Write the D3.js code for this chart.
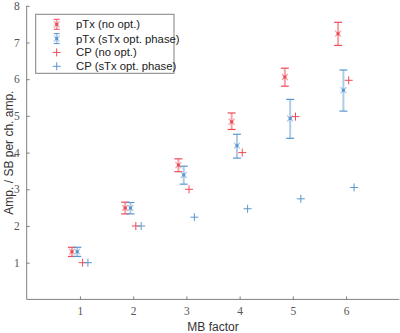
<!DOCTYPE html>
<html>
<head>
<script src="https://d3js.org/d3.v7.min.js"></script>
<style>
  body { margin: 0; background: #fff; }
  .axis text { font-family: "Liberation Serif", "DejaVu Serif", serif; font-size: 11.5px; fill: #555; }
  .axis line, .axis path { stroke: #808080; }
</style>
</head>
<body>
<svg id="chart" width="400" height="333"></svg>
<script>
// data
const mbFactors = [1, 2, 3, 4, 5, 6];
const pTxNoOpt = [1.30, 2.49, 3.66, 4.84, 6.06, 7.24];
const pTxNoOptLo = [1.17, 2.33, 3.48, 4.63, 5.81, 6.92];
const pTxNoOptHi = [1.42, 2.65, 3.83, 5.08, 6.30, 7.55];
const pTxSTx = [1.30, 2.49, 3.39, 4.19, 4.93, 5.70];
const pTxSTxLo = [1.17, 2.33, 3.14, 3.85, 4.39, 5.13];
const pTxSTxHi = [1.42, 2.64, 3.63, 4.50, 5.45, 6.25];
const cpNoOpt = [1.0, 2.0, 3.0, 4.0, 4.98, 5.97];
const cpSTx = [1.0, 2.0, 2.24, 2.47, 2.74, 3.05];
const legendLabels = ["pTx (no opt.)", "pTx (sTx opt. phase)", "CP (no opt.)", "CP (sTx opt. phase)"];
const xTicks = [1, 2, 3, 4, 5, 6];
const yTicks = [1, 2, 3, 4, 5, 6, 7, 8];

const red = "#ee4a55", redLight = "#f6a3a8";
const blue = "#5a97cf", blueLight = "#aecbe7";

const svg = d3.select("#chart");
const x = d3.scaleLinear().domain([0, 7]).range([26.7, 399.3]);
const y = d3.scaleLinear().domain([0, 8]).range([299.4, 5.8]);

// axes (ticks pointing inward)
svg.append("g").attr("class", "axis")
  .attr("transform", "translate(0,299.4)")
  .call(d3.axisBottom(x).tickValues(xTicks).tickSize(-3).tickPadding(7).tickFormat(d3.format("d")))
  .call(g => g.select(".domain").attr("d", "M26.7,0H399.3"));

svg.append("g").attr("class", "axis")
  .attr("transform", "translate(26.7,0)")
  .call(d3.axisLeft(y).tickValues(yTicks).tickSize(-3).tickPadding(7).tickFormat(d3.format("d")))
  .call(g => g.select(".domain").attr("d", "M0,299.4V5.8"));

svg.selectAll(".axis text").attr("font-family", null);

svg.append("text")
  .attr("x", x(3.5)).attr("y", 331)
  .attr("text-anchor", "middle")
  .style("font-family", "Liberation Sans, Arial, sans-serif")
  .style("font-size", "12px").style("fill", "#333")
  .text("MB factor");

svg.append("text")
  .attr("transform", `translate(13,${y(4)}) rotate(-90)`)
  .attr("text-anchor", "middle")
  .style("font-family", "Liberation Sans, Arial, sans-serif")
  .style("font-size", "12px").style("fill", "#333")
  .text("Amp. / SB per ch. amp.");

const plot = svg.append("g");

function errorBars(vals, lo, hi, off, col, colLight) {
  const g = plot.append("g");
  mbFactors.forEach((m, i) => {
    const cx = x(m + off);
    g.append("line").attr("x1", cx).attr("x2", cx)
      .attr("y1", y(lo[i])).attr("y2", y(hi[i]))
      .attr("stroke", colLight).attr("stroke-width", 2);
    [lo[i], hi[i]].forEach(v => {
      g.append("line").attr("x1", cx - 4).attr("x2", cx + 4)
        .attr("y1", y(v)).attr("y2", y(v))
        .attr("stroke", col).attr("stroke-width", 1.2);
    });
    drawCross(g, cx, y(vals[i]), col, colLight);
  });
}

function drawCross(g, cx, cy, col, colLight) {
  const s = 3;
  g.append("path")
    .attr("d", `M${cx - s},${cy - s}L${cx + s},${cy + s}M${cx - s},${cy + s}L${cx + s},${cy - s}`)
    .attr("stroke", colLight).attr("stroke-width", 1.2).attr("fill", "none");
  g.append("rect").attr("x", cx - 1.5).attr("y", cy - 1.5).attr("width", 3).attr("height", 3)
    .attr("fill", col);
}

function drawPlus(g, cx, cy, col) {
  const s = 4;
  g.append("path")
    .attr("d", `M${cx - s},${cy}H${cx + s}M${cx},${cy - s}V${cy + s}`)
    .attr("stroke", col).attr("stroke-width", 1).attr("fill", "none");
}

errorBars(pTxNoOpt, pTxNoOptLo, pTxNoOptHi, -0.15, red, redLight);
errorBars(pTxSTx, pTxSTxLo, pTxSTxHi, -0.05, blue, blueLight);
mbFactors.forEach((m, i) => drawPlus(plot, x(m + 0.05), y(cpNoOpt[i]), red));
mbFactors.forEach((m, i) => drawPlus(plot, x(m + 0.15), y(cpSTx[i]), blue));

// legend
const leg = svg.append("g");
leg.append("rect").attr("x", 35.7).attr("y", 14.3).attr("width", 138.3).attr("height", 59)
  .attr("fill", "#fff").attr("stroke", "#808080").attr("stroke-width", 1);
const legY = [24.3, 38.6, 52.4, 66.3];
const legCols = [[red, redLight], [blue, blueLight], [red], [blue]];
legendLabels.forEach((lab, i) => {
  const cy = legY[i];
  if (i < 2) {
    leg.append("line").attr("x1", 56.7).attr("x2", 56.7).attr("y1", cy - 5).attr("y2", cy + 5)
      .attr("stroke", legCols[i][1]).attr("stroke-width", 2);
    [cy - 5, cy + 5].forEach(v => leg.append("line").attr("x1", 53.7).attr("x2", 59.7)
      .attr("y1", v).attr("y2", v).attr("stroke", legCols[i][0]).attr("stroke-width", 1));
    drawCross(leg, 56.7, cy, legCols[i][0], legCols[i][1]);
  } else {
    drawPlus(leg, 56.7, cy, legCols[i][0]);
  }
  leg.append("text").attr("x", 76).attr("y", cy + 4)
    .style("font-family", "Liberation Sans, Arial, sans-serif")
    .style("font-size", "11.3px").style("fill", "#222")
    .text(lab);
});
</script>
</body>
</html>
